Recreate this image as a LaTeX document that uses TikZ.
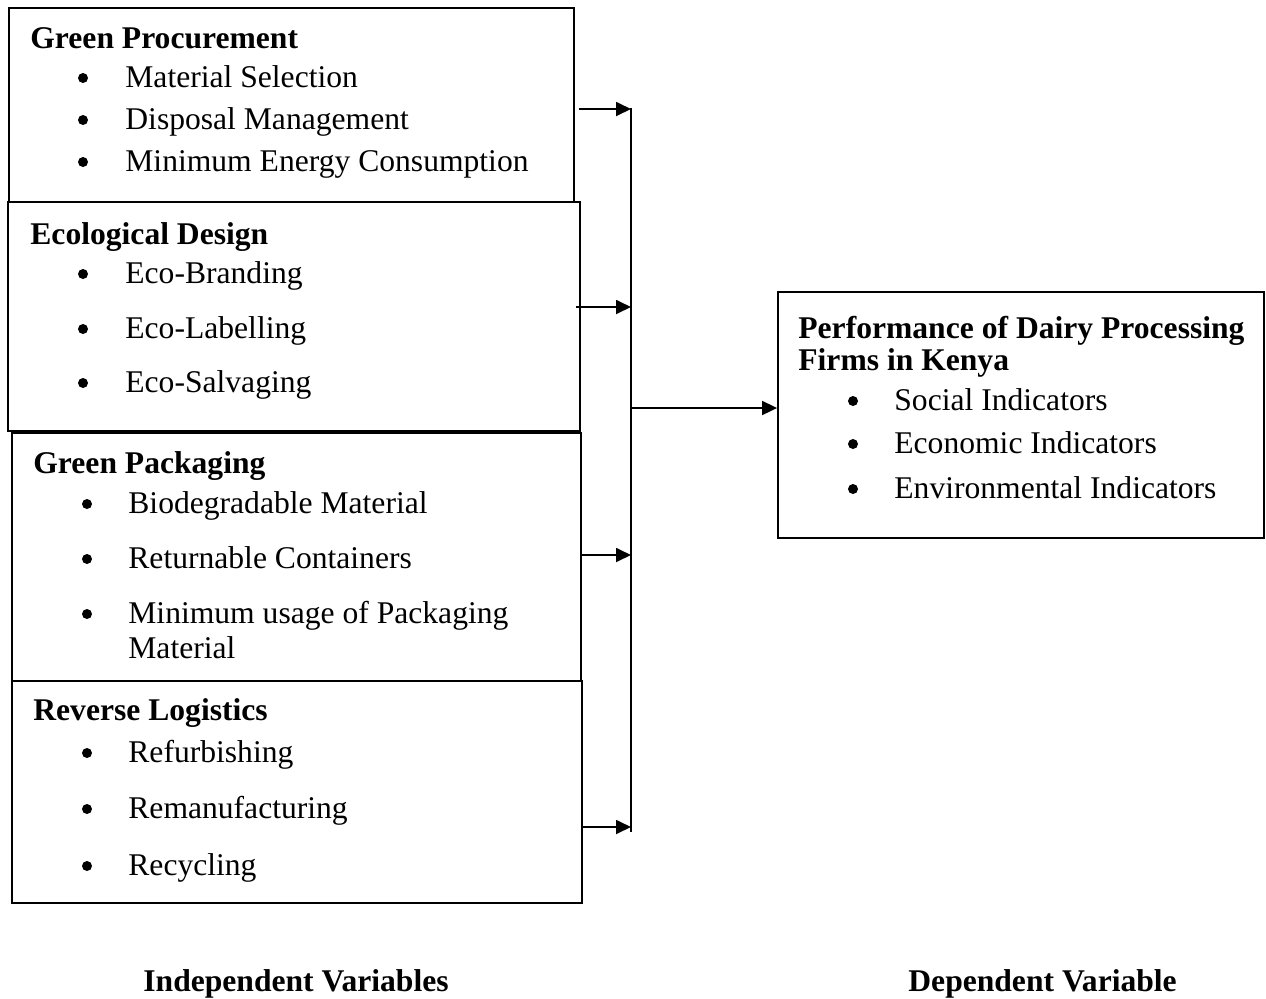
\documentclass[tikz,border=0pt]{standalone}
\usepackage{fontspec}
\setmainfont{Liberation Serif}
\usetikzlibrary{arrows.meta,fit}

\begin{document}
\begin{tikzpicture}[x=0.5pt,y=-0.5pt,
	every node/.style={font=\fontsize{15.8}{18}\selectfont},
	box/.style={draw,line width=0.9pt,inner sep=0pt},
	head/.style={anchor=base west,inner sep=0pt,font=\fontsize{15.8}{18}\selectfont\bfseries},
	item/.style={anchor=base west,inner sep=0pt},
	dot/.style={circle,fill,inner sep=0pt,minimum size=5pt},
	arr/.style={line width=0.9pt,-{Triangle[length=7.5pt,width=7pt]}}]
	
	\useasboundingbox (0,0) rectangle (1266,998);
	
	% independent variables
	\node[box,fit={(9,8) (574,202)}]    (gp) {};
	\node[box,fit={(8,202) (580,431)}]  (ed) {};
	\node[box,fit={(12,433) (581,681)}] (pk) {};
	\node[box,fit={(12,681) (582,903)}] (rl) {};
	
	\node[head] (gph) at (30,48)  {Green Procurement};
	\node[head] (edh) at (30,244) {Ecological Design};
	\node[head] (pkh) at (33,473) {Green Packaging};
	\node[head] (rlh) at (33,720) {Reverse Logistics};
	
	\foreach \y/\t [count=\i] in {87/Material Selection,129/Disposal Management,171/Minimum Energy Consumption}{
		\node[dot]  (gpd\i) at (83,\y-9) {};
		\node[item] (gpi\i) at (125,\y) {\t};
	}
	\foreach \y/\t [count=\i] in {283/Eco-Branding,338/Eco-Labelling,392/Eco-Salvaging}{
		\node[dot]  (edd\i) at (83,\y-9) {};
		\node[item] (edi\i) at (125,\y) {\t};
	}
	\foreach \y/\t [count=\i] in {513/Biodegradable Material,568/Returnable Containers,623/Minimum usage of Packaging}{
		\node[dot]  (pkd\i) at (87,\y-9) {};
		\node[item] (pki\i) at (128,\y) {\t};
	}
	\node[item] (pki4) at (128,658) {Material};
	\foreach \y/\t [count=\i] in {762/Refurbishing,818/Remanufacturing,875/Recycling}{
		\node[dot]  (rld\i) at (87,\y-9) {};
		\node[item] (rli\i) at (128,\y) {\t};
	}
	
	% dependent variable
	\node[box,fit={(778,292) (1264,538)}] (perf) {};
	\node[head] (perfh1) at (798,338) {Performance of Dairy Processing};
	\node[head] (perfh2) at (798,370) {Firms in Kenya};
	\foreach \y/\t [count=\i] in {410/Social Indicators,453/Economic Indicators,498/Environmental Indicators}{
		\node[dot]  (pfd\i) at (853,\y-9) {};
		\node[item] (pfi\i) at (894,\y) {\t};
	}
	
	% collecting line
	\coordinate (top) at (631,108);
	\coordinate (bot) at (631,832);
	\coordinate (a1)  at (631,109);
	\coordinate (a2)  at (631,307);
	\coordinate (a3)  at (631,555);
	\coordinate (a4)  at (631,827);
	\coordinate (hub) at (631,408);
	
	\draw[line width=0.9pt] (top) -- (bot);
	\draw[arr] ([xshift=2pt]gp.east |- a1) -- (a1);
	\draw[arr] ([xshift=-2.5pt]ed.east |- a2) -- (a2);
	\draw[arr] (pk.east |- a3) -- (a3);
	\draw[arr] (rl.east |- a4) -- (a4);
	\draw[arr] (hub) -- (perf.west |- hub);
	
	\node[head] (iv) at (143,991) {Independent Variables};
	\node[head] (dv) at (908,991) {Dependent Variable};
\end{tikzpicture}
\end{document}
